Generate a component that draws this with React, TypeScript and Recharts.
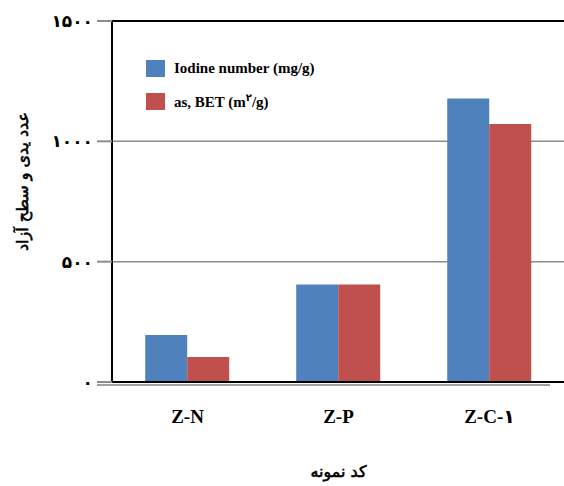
import React from 'react';
import { BarChart, Bar, XAxis, YAxis, CartesianGrid, ReferenceLine, Label } from 'recharts';

const samples = ['Z-N', 'Z-P', 'Z-C-۱'];
const iodineNumber = [195, 405, 1178];
const betSurface = [104, 405, 1072];
const yTicks = [0, 500, 1000, 1500];

const data = samples.map((name, i) => ({
  name,
  iodine: iodineNumber[i],
  bet: betSurface[i],
}));

const toPersian = (n: number) => String(n).replace(/\d/g, (d) => '۰۱۲۳۴۵۶۷۸۹'[Number(d)]);

const serif = '"Liberation Serif", "DejaVu Sans", serif';
const persian = '"DejaVu Sans", sans-serif';

const legendItems = [
  { color: '#4F81BD', text: 'Iodine number (mg/g)' },
  { color: '#C0504D', text: 'as, BET (m', sup: '۲', tail: '/g)' },
];

const LegendBox = () => (
  <div style={{ position: 'absolute', left: 146, top: 60, fontFamily: serif, fontWeight: 'bold', fontSize: 15, color: '#000' }}>
    {legendItems.map((item, i) => (
      <div key={i} style={{ display: 'flex', alignItems: 'center', height: 17, marginBottom: 16 }}>
        <span style={{ width: 19, height: 17, background: item.color, display: 'inline-block', marginRight: 9 }} />
        <span>
          {item.text}
          {item.sup && <sup style={{ fontSize: 10 }}>{item.sup}</sup>}
          {item.tail}
        </span>
      </div>
    ))}
  </div>
);

const YTitle = ({ viewBox }: any) => {
  const x = 22;
  const y = viewBox.y + viewBox.height / 2 - 20;
  return (
    <text
      x={x}
      y={y}
      transform={`rotate(-90 ${x} ${y})`}
      textAnchor="middle"
      dominantBaseline="central"
      fontFamily={persian}
      fontSize={16}
      fill="#000"
      stroke="#000"
      strokeWidth={0.6}
    >
      عدد یدی و سطح آزاد
    </text>
  );
};

export default function App() {
  return (
    <div style={{ position: 'absolute', left: 0, top: 0, width: 564, height: 486, overflow: 'hidden', background: '#fff' }}>
      <BarChart
        width={566}
        height={486}
        data={data}
        margin={{ top: 21, right: 1, left: 0, bottom: 0 }}
        barCategoryGap="22%"
        barGap={0}
      >
        <CartesianGrid vertical={false} stroke="#8c8c8c" strokeWidth={1.5} />
        <ReferenceLine y={0} stroke="#a0a0a0" strokeWidth={2} transform="translate(-15 3)" />
        <XAxis
          dataKey="name"
          axisLine={{ stroke: '#000', strokeWidth: 2 }}
          tickLine={false}
          tickSize={0}
          tickMargin={28}
          height={104}
          tick={{ fontFamily: serif, fontWeight: 'bold', fontSize: 19, fill: '#000' }}
        >
          <Label
            value="کد نمونه"
            position="insideBottom"
            offset={9}
            style={{ fontFamily: persian, fontSize: 16, fill: '#000', stroke: '#000', strokeWidth: 0.6 }}
          />
        </XAxis>
        <YAxis
          domain={[0, 1500]}
          ticks={yTicks}
          width={112}
          axisLine={{ stroke: '#000', strokeWidth: 2 }}
          tickLine={{ stroke: '#8c8c8c', strokeWidth: 2 }}
          tickSize={15}
          tickMargin={4}
          tickFormatter={toPersian}
          tick={{ fontFamily: persian, fontWeight: 'bold', fontSize: 17, fill: '#000' }}
        >
          <Label content={<YTitle />} />
        </YAxis>
        <ReferenceLine y={1500} stroke="#000" strokeWidth={2} />
        <Bar dataKey="iodine" name="Iodine number (mg/g)" fill="#4F81BD" isAnimationActive={false} />
        <Bar dataKey="bet" name="as, BET (m۲/g)" fill="#C0504D" isAnimationActive={false} />
      </BarChart>
      <LegendBox />
    </div>
  );
}
